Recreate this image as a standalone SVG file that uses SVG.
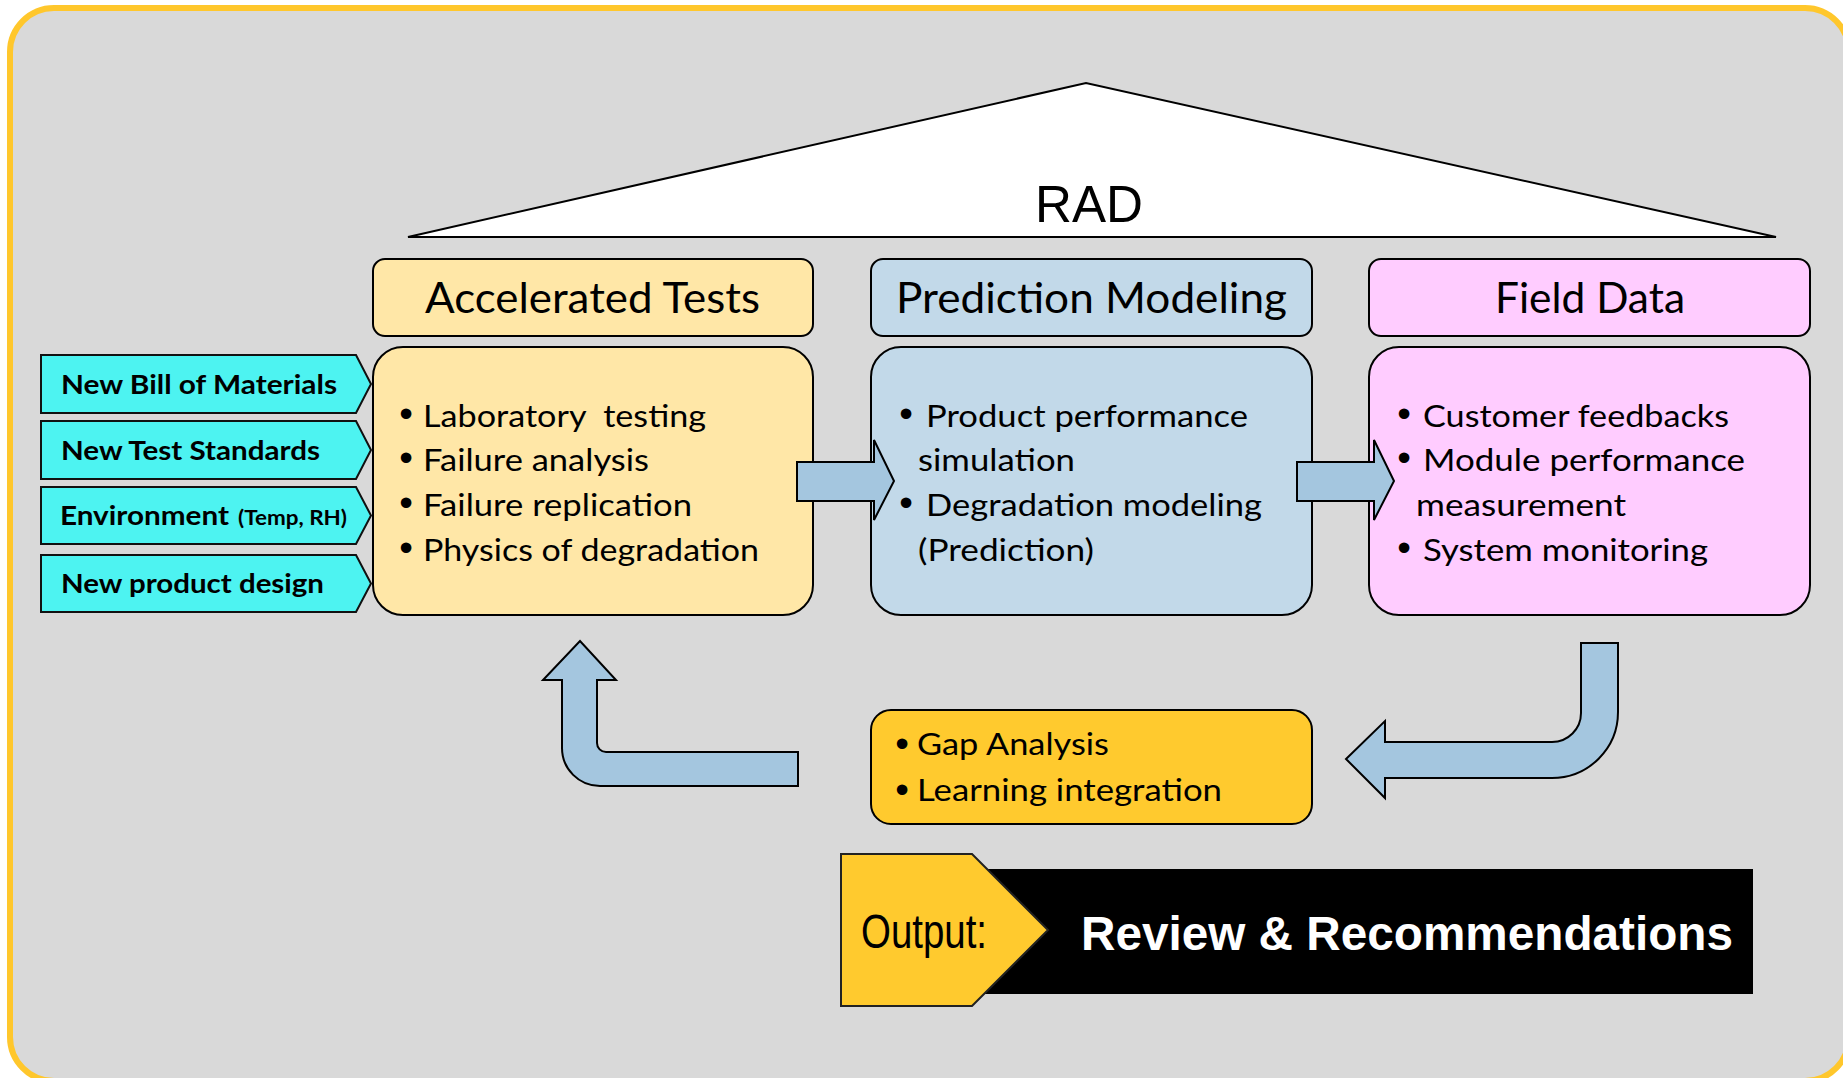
<svg xmlns="http://www.w3.org/2000/svg" width="1843" height="1078" viewBox="0 0 1843 1078">
<defs>
<style>
.frame{fill:#D9D9D9;stroke:#FFC72C;stroke-width:6}
.box{stroke:#000;stroke-width:2}
.acc{fill:#FFE7A7}
.pred{fill:#C2D9E9}
.field{fill:#FFCCFF}
.gap{fill:#FFCA2E}
.cyan{fill:#4DF3F1;stroke:#111;stroke-width:2}
.blk{fill:#A4C6DF;stroke:#000;stroke-width:2;stroke-linejoin:miter}
.cal{font-family:Lato,"Open Sans","Noto Sans",sans-serif;fill:#000}
.hd{font-size:42px}
.bd{font-size:30px}
.lbl{font-size:26px;font-weight:bold}
.bul{font-family:"Liberation Sans",Arial,sans-serif;font-size:39px;fill:#000;text-anchor:middle}
</style>
</defs>
<rect class="frame" x="10" y="8" width="1839" height="1073" rx="44" ry="44"/>

<g id="rad">
<polygon points="408,237 1086,83 1776,237" fill="#FFFFFF" stroke="#000" stroke-width="2"/>
<text x="1035" y="222" font-family="'Liberation Sans',Arial,sans-serif" font-size="52" textLength="108" lengthAdjust="spacingAndGlyphs">RAD</text>
</g>

<g id="inputs">
<g id="in-bom">
<path class="cyan" d="M41,355 H356 L371,384 L356,413 H41 Z"/>
<text class="cal lbl" x="61" y="394" textLength="276" lengthAdjust="spacingAndGlyphs">New Bill of Materials</text>
</g>
<g id="in-std">
<path class="cyan" d="M41,421 H356 L371,450 L356,479 H41 Z"/>
<text class="cal lbl" x="61" y="460" textLength="259" lengthAdjust="spacingAndGlyphs">New Test Standards</text>
</g>
<g id="in-env">
<path class="cyan" d="M41,487 H356 L371,515.5 L356,544 H41 Z"/>
<text class="cal lbl" x="60" y="525" textLength="169" lengthAdjust="spacingAndGlyphs">Environment</text>
<text class="cal" x="238" y="525" font-size="20" font-weight="bold" textLength="109" lengthAdjust="spacingAndGlyphs">(Temp, RH)</text>
</g>
<g id="in-design">
<path class="cyan" d="M41,555 H356 L371,583.5 L356,612 H41 Z"/>
<text class="cal lbl" x="61" y="593" textLength="263" lengthAdjust="spacingAndGlyphs">New product design</text>
</g>
</g>

<g id="accelerated">
<rect class="box acc" x="373" y="259" width="440" height="77" rx="12"/>
<text class="cal hd" x="425" y="313" textLength="335" lengthAdjust="spacingAndGlyphs">Accelerated Tests</text>
<rect class="box acc" x="373" y="347" width="440" height="268" rx="30"/>
<text class="bul" x="406" y="427">•</text>
<text class="cal bd" x="423" y="427" textLength="283" lengthAdjust="spacingAndGlyphs" style="white-space:pre">Laboratory  testing</text>
<text class="bul" x="406" y="471">•</text>
<text class="cal bd" x="423" y="471" textLength="226" lengthAdjust="spacingAndGlyphs">Failure analysis</text>
<text class="bul" x="406" y="516">•</text>
<text class="cal bd" x="423" y="516" textLength="269" lengthAdjust="spacingAndGlyphs">Failure replication</text>
<text class="bul" x="406" y="561">•</text>
<text class="cal bd" x="423" y="561" textLength="336" lengthAdjust="spacingAndGlyphs">Physics of degradation</text>
</g>

<g id="prediction">
<rect class="box pred" x="871" y="259" width="441" height="77" rx="12"/>
<text class="cal hd" x="896" y="313" textLength="391" lengthAdjust="spacingAndGlyphs">Prediction Modeling</text>
<rect class="box pred" x="871" y="347" width="441" height="268" rx="30"/>
<text class="bul" x="906" y="427">•</text>
<text class="cal bd" x="926" y="427" textLength="322" lengthAdjust="spacingAndGlyphs">Product performance</text>
<text class="cal bd" x="918" y="471" textLength="157" lengthAdjust="spacingAndGlyphs">simulation</text>
<text class="bul" x="906" y="516">•</text>
<text class="cal bd" x="926" y="516" textLength="336" lengthAdjust="spacingAndGlyphs">Degradation modeling</text>
<text class="cal bd" x="918" y="561" textLength="176" lengthAdjust="spacingAndGlyphs">(Prediction)</text>
</g>

<g id="field">
<rect class="box field" x="1369" y="259" width="441" height="77" rx="12"/>
<text class="cal hd" x="1495" y="313" textLength="190" lengthAdjust="spacingAndGlyphs">Field Data</text>
<rect class="box field" x="1369" y="347" width="441" height="268" rx="30"/>
<text class="bul" x="1404" y="427">•</text>
<text class="cal bd" x="1423" y="427" textLength="306" lengthAdjust="spacingAndGlyphs">Customer feedbacks</text>
<text class="bul" x="1404" y="471">•</text>
<text class="cal bd" x="1423" y="471" textLength="322" lengthAdjust="spacingAndGlyphs">Module performance</text>
<text class="cal bd" x="1416" y="516" textLength="210" lengthAdjust="spacingAndGlyphs">measurement</text>
<text class="bul" x="1404" y="561">•</text>
<text class="cal bd" x="1423" y="561" textLength="285" lengthAdjust="spacingAndGlyphs">System monitoring</text>
</g>

<g id="gap">
<rect class="box gap" x="871" y="710" width="441" height="114" rx="20"/>
<text class="bul" x="902" y="757">•</text>
<text class="cal bd" x="917" y="755" textLength="192" lengthAdjust="spacingAndGlyphs">Gap Analysis</text>
<text class="bul" x="902" y="803">•</text>
<text class="cal bd" x="917" y="801" textLength="305" lengthAdjust="spacingAndGlyphs">Learning integration</text>
</g>

<g id="output">
<rect x="960" y="869" width="793" height="125" fill="#000"/>
<polygon points="841,854 972,854 1048,930 972,1006 841,1006" fill="#FFCA2E" stroke="#222" stroke-width="2"/>
<text x="861" y="948" font-family="'Liberation Sans Narrow','Liberation Sans',Arial,sans-serif" font-size="49" textLength="126" lengthAdjust="spacingAndGlyphs">Output:</text>
<text x="1081" y="950" font-family="'Liberation Sans',Arial,sans-serif" font-size="48" font-weight="bold" fill="#FFFFFF" textLength="652" lengthAdjust="spacingAndGlyphs">Review &amp; Recommendations</text>
</g>

<g id="connectors">
<path class="blk" d="M797,462 H874 V440 L894,481 L874,520 V501 H797 Z"/>
<path class="blk" d="M1297,462 H1374 V440 L1394,481 L1374,520 V501 H1297 Z"/>
<path class="blk" d="M798,752 H606 A9,9 0 0 1 597,743 V680 H616 L580,641 L543,680 H562 V748 A38,38 0 0 0 600,786 H798 Z"/>
<path class="blk" d="M1581,643 H1618 V712 A66,66 0 0 1 1552,778 H1385 V798 L1346,759 L1385,721 V742 H1552 A29,29 0 0 0 1581,713 Z"/>
</g>
</svg>
